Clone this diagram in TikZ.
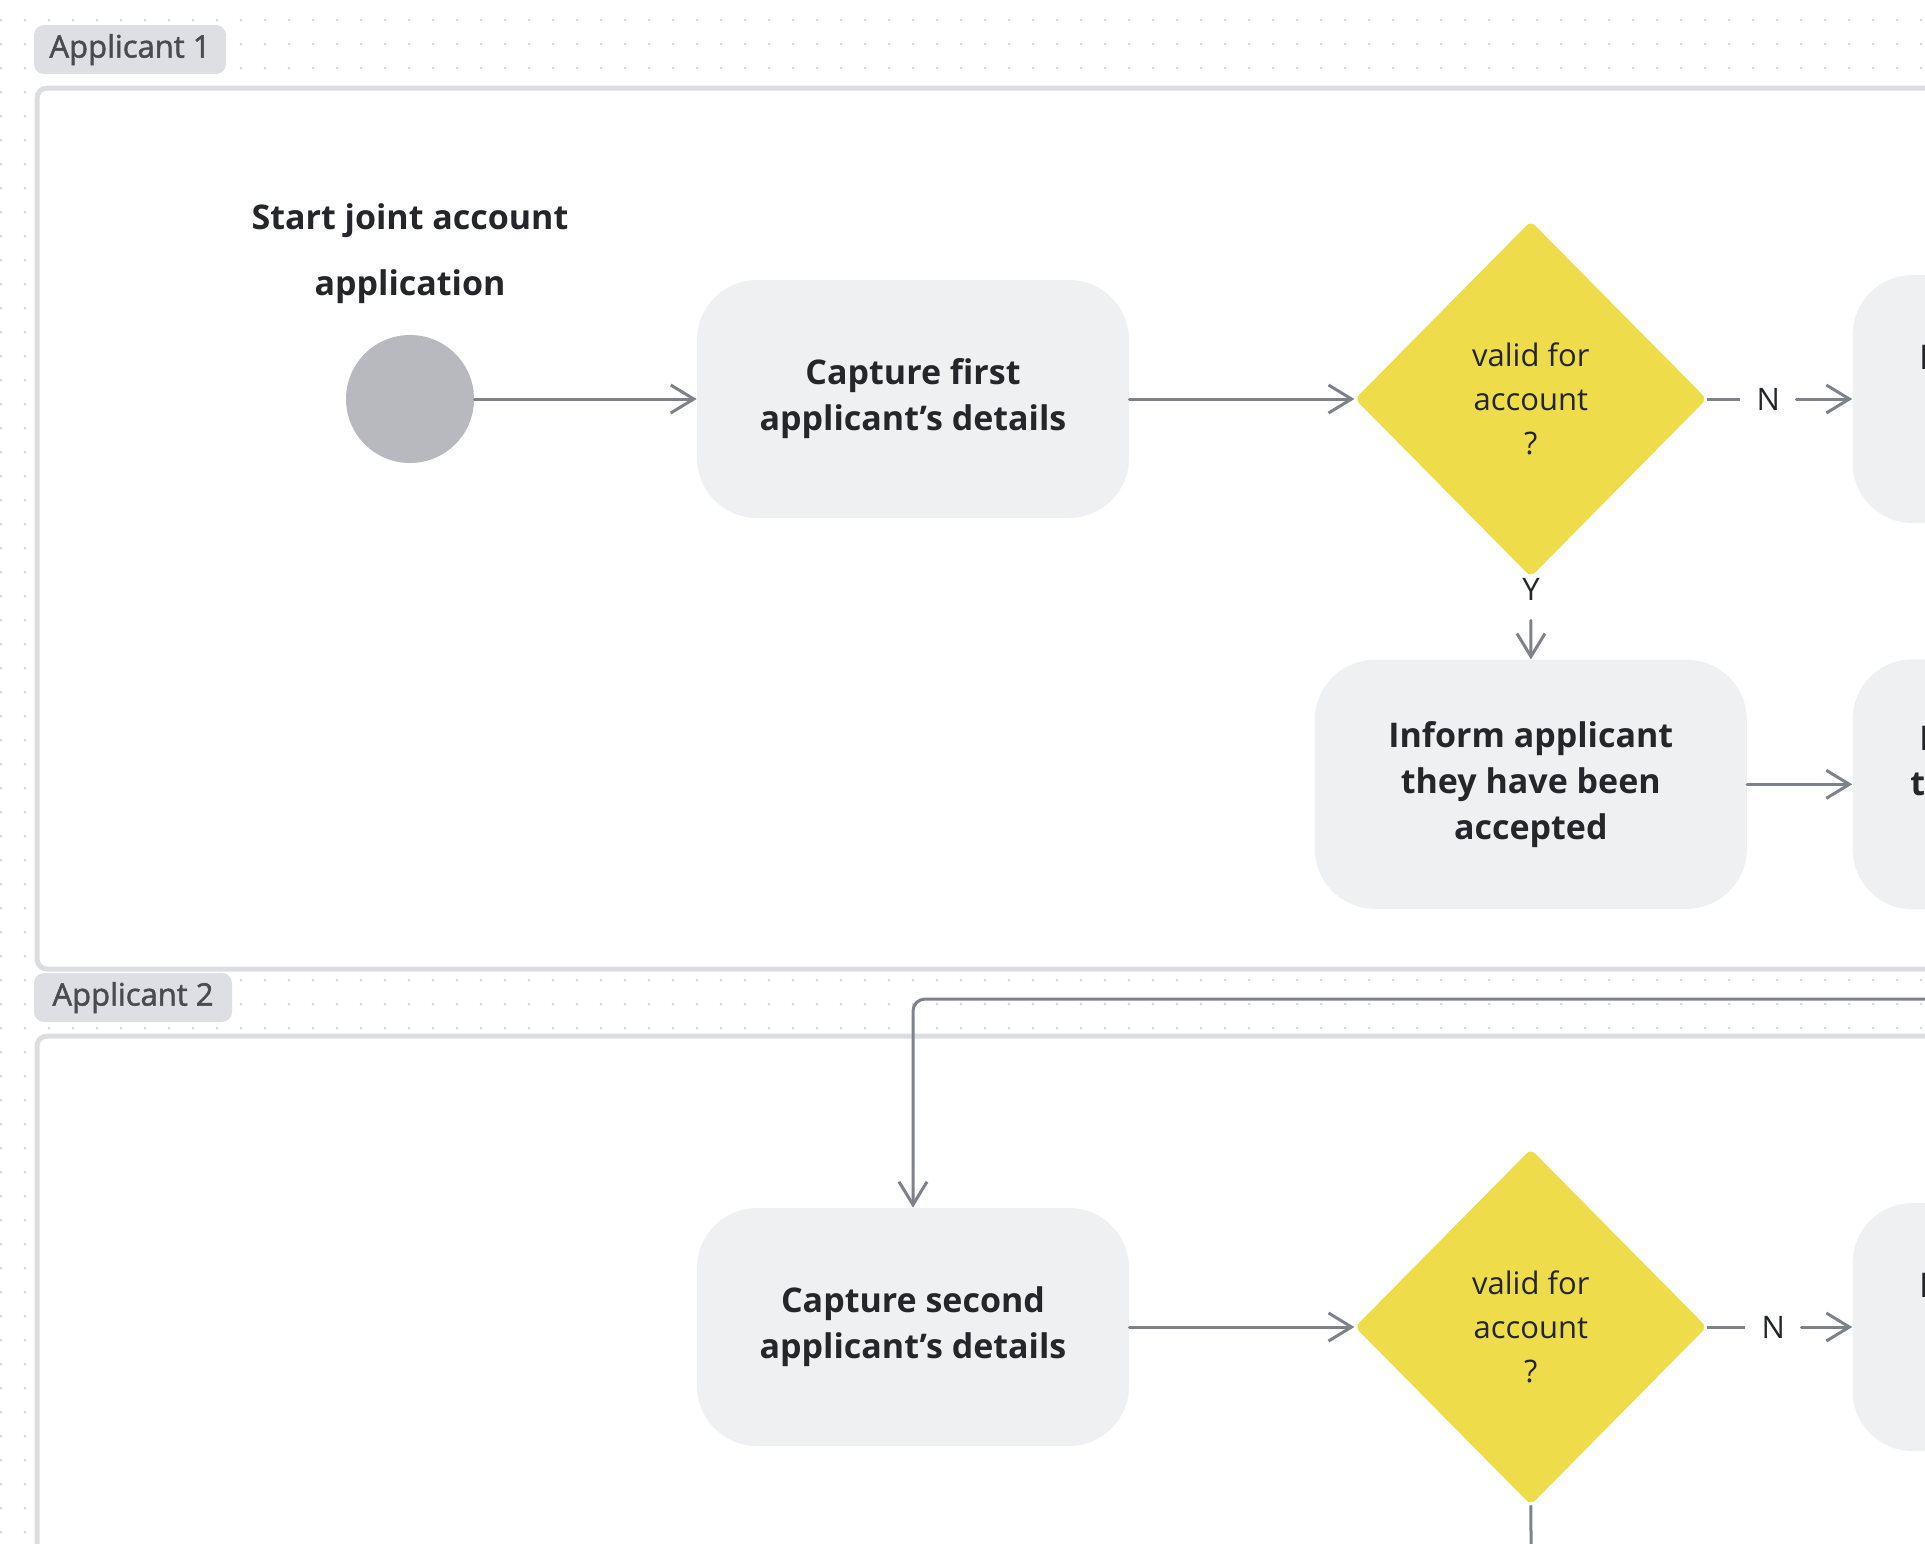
\documentclass[tikz,border=0pt]{standalone}
\usepackage{fontspec}
\setmainfont{Open Sans}
\newfontfamily\tabfont{Open Sans}[FakeBold=1.6]
\usepackage{tikz}
\usetikzlibrary{positioning,shapes.geometric,arrows.meta}
\definecolor{ink}{HTML}{25262A}
\definecolor{tabtext}{HTML}{4A4B51}
\definecolor{tabfill}{HTML}{DEDFE3}
\definecolor{laneline}{HTML}{DCDDE1}
\definecolor{dotc}{HTML}{D3D5D9}
\definecolor{boxfill}{HTML}{EFF0F2}
\definecolor{decfill}{HTML}{EEDC4B}
\definecolor{startfill}{HTML}{B8B9BE}
\definecolor{flow}{HTML}{7E828B}
\tikzset{
  box/.style={rectangle,fill=boxfill,rounded corners=30pt,align=center,
    text=ink,font=\bfseries\fontsize{17}{23}\selectfont,
    minimum width=216pt,minimum height=119pt},
  dec/.style={diamond,fill=decfill,rounded corners=3pt,align=center,text=ink,
    font=\fontsize{15.5}{22}\selectfont,inner sep=0pt,
    minimum width=176pt,minimum height=178pt},
  lbl/.style={text=ink,font=\fontsize{15.5}{18}\selectfont,inner sep=0pt},
  frag/.style={text=ink,font=\bfseries\fontsize{17}{23}\selectfont,
    anchor=west,inner sep=0pt},
  tab/.style={fill=tabfill,rounded corners=5pt,text=tabtext,
    font=\tabfont\fontsize{15.5}{18}\selectfont,minimum height=24.5pt,inner sep=0pt},
  lane/.style={draw=laneline,line width=2.5pt,fill=white,rounded corners=5pt},
  fl/.style={-{Straight Barb[length=11.5pt,width=14pt]},draw=flow,
    line width=1.5pt,line cap=round},
  ln/.style={draw=flow,line width=1.5pt},
}
\begin{document}
\begin{tikzpicture}[x=0.5pt,y=-0.5pt]
  \useasboundingbox (0,0) rectangle (1925,1543);
  \clip (0,0) rectangle (1925,1543);
  % dotted canvas
  \foreach \i in {0,...,80}
    \foreach \j in {0,...,64}
      \fill[dotc] (1+24*\i,20+24*\j) circle (0.75pt);
  % swimlanes
  \draw[lane] (37,88) rectangle (2000,969);
  \draw[lane] (37,1036) rectangle (2000,1700);
  \node[tab,minimum width=96pt] (tab1) at (130,49.5) {Applicant 1};
  \node[tab,minimum width=99pt] (tab2) at (133,997.5) {Applicant 2};
  % applicant 1
  \node[circle,fill=startfill,minimum size=64pt,inner sep=0pt] (start) at (410,399) {};
  \node[align=center,text=ink,font=\bfseries\fontsize{17}{33}\selectfont]
    (startlbl) at (410,254) {Start joint account\\application};
  \node[box] (cap1) at (913,399) {Capture first\\applicant’s details};
  \node[dec,right=112.5pt of cap1] (dec1) {valid for\\account\\?};
  \node[lbl,inner xsep=8pt,right=16.5pt of dec1] (n1) {N};
  \node[box,minimum height=124pt,right=72.5pt of dec1] (rej1) {};
  \node[frag] (rej1t) at (1919,357) {I};
  \node[lbl,inner ysep=10pt] (y1) at (1531,589) {Y};
  \node[box,minimum height=124.5pt,below=41pt of dec1] (inform) {Inform applicant\\they have been\\accepted};
  \node[box,minimum height=125pt,right=52.5pt of inform] (next1) {};
  \node[frag] (next1a) at (1919,738) {I};
  \node[frag] (next1b) at (1910,784) {t};
  % applicant 2
  \coordinate (from2) at (1930,999);
  \node[box] (cap2) at (913,1327) {Capture second\\applicant’s details};
  \node[dec,right=112.5pt of cap2] (dec2) {valid for\\account\\?};
  \node[lbl,inner xsep=8pt,right=19pt of dec2] (n2) {N};
  \node[box,minimum height=124pt,right=72.5pt of dec2] (rej2) {};
  \node[frag] (rej2t) at (1919,1285) {I};
  \coordinate (out2) at (1531,1560);
  % connectors
  \draw[fl] (start)--(cap1); \draw[fl] (cap1)--(dec1);
  \draw[ln] (dec1)--(n1); \draw[fl] (n1)--(rej1);
  \draw[fl] (y1)--(inform); \draw[fl] (inform)--(next1);
  \draw[fl,rounded corners=6pt] (from2) -| (cap2);
  \draw[fl] (cap2)--(dec2);
  \draw[ln] (dec2)--(n2); \draw[fl] (n2)--(rej2);
  \draw[ln] (dec2)--(out2);
\end{tikzpicture}
\end{document}
